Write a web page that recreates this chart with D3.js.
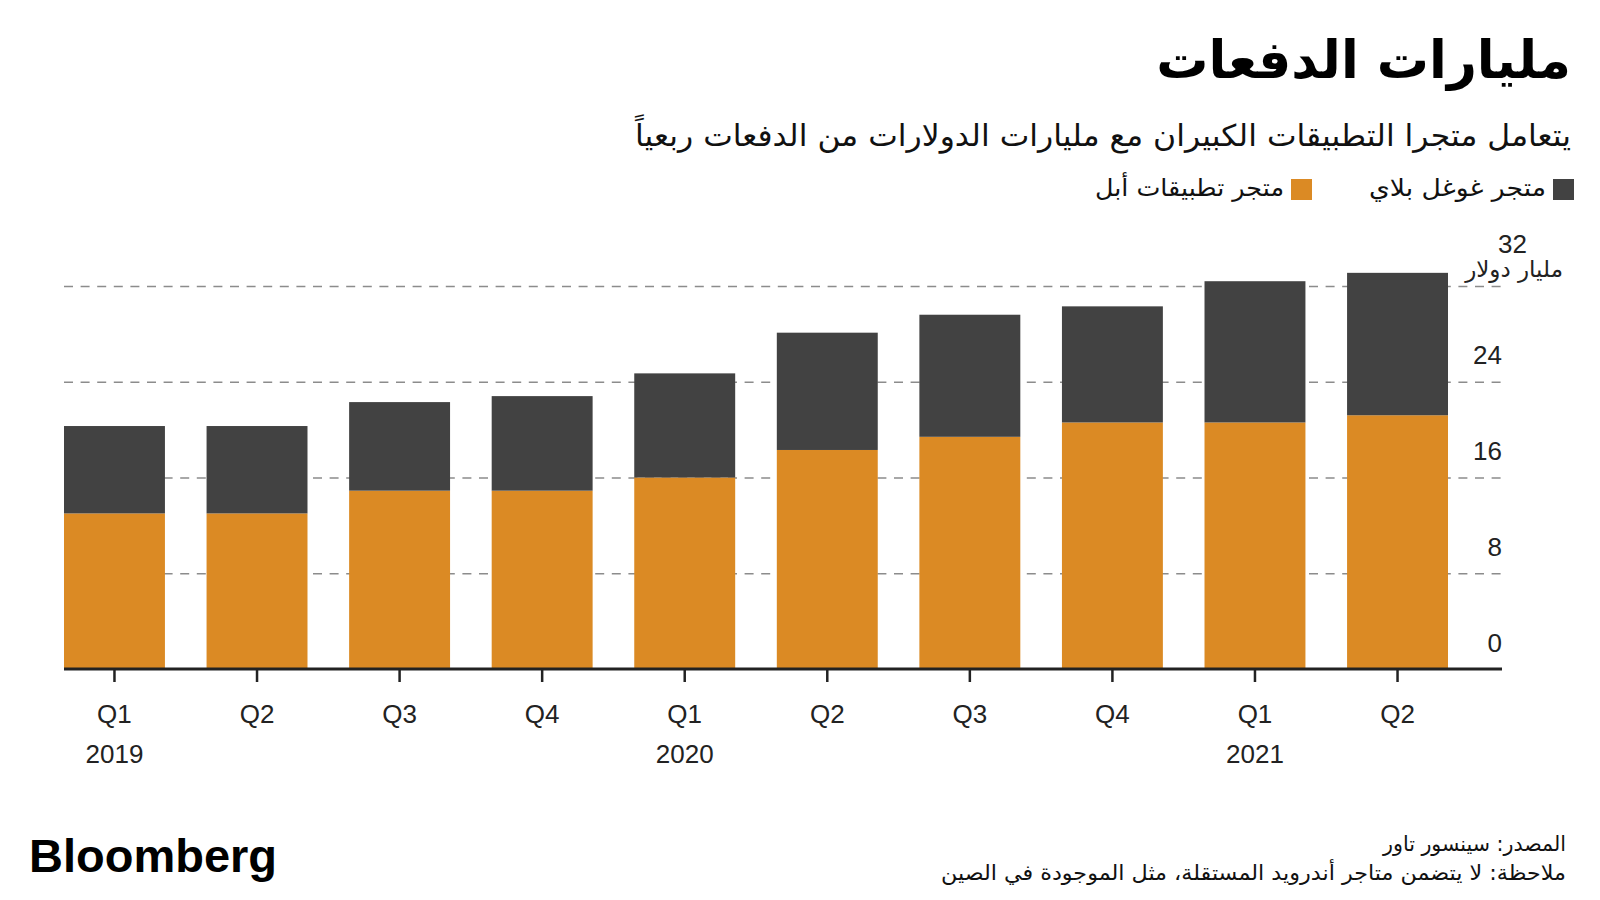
<!DOCTYPE html>
<html><head><meta charset="utf-8">
<script src="https://cdn.jsdelivr.net/npm/d3@7"></script>
<style>
html,body{margin:0;padding:0;background:#fff;}
svg{display:block;}
.ar{font-family:"DejaVu Sans",sans-serif;}
.num{font-family:"Liberation Sans",Arial,sans-serif;}
</style></head>
<body>
<svg id="chart" width="1600" height="900"></svg>
<script>
// ---- data ----
const periods = ["2019 Q1","2019 Q2","2019 Q3","2019 Q4","2020 Q1","2020 Q2","2020 Q3","2020 Q4","2021 Q1","2021 Q2"];
const quarterLabels = ["Q1","Q2","Q3","Q4","Q1","Q2","Q3","Q4","Q1","Q2"];
const yearLabels = ["2019","","","","2020","","","","2021",""];
const appleValues = [13.0, 13.0, 14.9, 14.9, 16.0, 18.3, 19.4, 20.6, 20.6, 21.2];
const googleValues = [7.3, 7.3, 7.4, 7.9, 8.7, 9.8, 10.2, 9.7, 11.8, 11.9];
const yTicks = [0, 8, 16, 24, 32];
const seriesNames = ["متجر تطبيقات أبل", "متجر غوغل بلاي"];
const titleText = "مليارات الدفعات";
const subtitleText = "يتعامل متجرا التطبيقات الكبيران مع مليارات الدولارات من الدفعات ربعياً";
const unitText = "مليار دولار";
const sourceText = "المصدر: سينسور تاور";
const noteText = "ملاحظة: لا يتضمن متاجر أندرويد المستقلة، مثل الموجودة في الصين";

const colors = {apple: "#db8a24", google: "#424242"};

const svg = d3.select("#chart");

// scales
const x = d3.scaleBand().domain(periods).range([64, 1448]).paddingInner(0.292).paddingOuter(0);
const y = d3.scaleLinear().domain([0, 32]).range([669, 286]);
const gridRight = 1502;

// gridlines
const gridAxis = d3.axisRight(y).tickValues(yTicks.filter(d => d > 0)).tickSize(gridRight - 64).tickFormat("");
const gGrid = svg.append("g").attr("transform", "translate(64,0)").call(gridAxis);
gGrid.select(".domain").remove();
gGrid.selectAll("line").attr("stroke", "#8c8c8c").attr("stroke-width", 1.5).attr("stroke-dasharray", "9,7.6");

// stacked bars
const rows = periods.map((p, i) => ({period: p, apple: appleValues[i], google: googleValues[i]}));
const stack = d3.stack().keys(["apple", "google"])(rows);
svg.append("g").selectAll("g").data(stack).join("g")
  .attr("fill", d => colors[d.key])
  .selectAll("rect").data(d => d).join("rect")
  .attr("x", d => x(d.data.period))
  .attr("width", x.bandwidth())
  .attr("y", d => y(d[1]))
  .attr("height", d => y(d[0]) - y(d[1]));

// y labels
const yLabelAxis = d3.axisLeft(y).tickValues(yTicks).tickSize(0).tickPadding(0);
const gY = svg.append("g").attr("class", "num").attr("transform", `translate(${gridRight},0)`).call(yLabelAxis);
gY.select(".domain").remove();
gY.selectAll("text").attr("font-size", 26).attr("font-family", "'Liberation Sans', Arial, sans-serif")
  .attr("fill", "#222").attr("dy", 0)
  .attr("y", d => d === 32 ? -34 : -18)
  .attr("x", d => d === 32 ? 25 : 0);
svg.append("text").attr("class", "ar").attr("x", 1563).attr("y", y(32) - 9)
  .attr("text-anchor", "end").attr("font-size", 23).attr("fill", "#222").text(unitText);

// x axis
const xAxis = d3.axisBottom(x).tickSize(13).tickFormat((d, i) => quarterLabels[i]);
const gX = svg.append("g").attr("transform", `translate(0,${y(0)})`).call(xAxis);
gX.select(".domain").remove();
gX.selectAll("line").attr("stroke", "#222").attr("stroke-width", 2.5);
gX.selectAll("text").attr("font-size", 26).attr("font-family", "'Liberation Sans', Arial, sans-serif")
  .attr("fill", "#222").attr("dy", 0).attr("y", 54);
gX.selectAll(".tick").append("text")
  .attr("font-size", 26).attr("font-family", "'Liberation Sans', Arial, sans-serif")
  .attr("fill", "#222").attr("text-anchor", "middle").attr("y", 94)
  .text((d, i) => yearLabels[i]);
// baseline
svg.append("line").attr("x1", 64).attr("x2", gridRight).attr("y1", y(0)).attr("y2", y(0))
  .attr("stroke", "#222").attr("stroke-width", 3);

// title & subtitle
const title = svg.append("text").attr("class", "ar").attr("x", 1571).attr("y", 78).attr("text-anchor", "end")
  .attr("font-size", 56).attr("font-weight", "bold").attr("fill", "#000").text(titleText);
const natural = title.node().getComputedTextLength();
if (natural > 415) title.attr("font-size", 56 * 415 / natural);
svg.append("text").attr("class", "ar").attr("x", 1571).attr("y", 146).attr("text-anchor", "end")
  .attr("font-size", 30).attr("fill", "#111")
  .attr("textLength", 936).attr("lengthAdjust", "spacingAndGlyphs").text(subtitleText);

// legend
const legend = [
  {name: seriesNames[1], color: colors.google, sq: 1553, tx: 1546, w: 177},
  {name: seriesNames[0], color: colors.apple, sq: 1291, tx: 1284, w: 189}
];
const gL = svg.append("g");
legend.forEach(l => {
  gL.append("rect").attr("x", l.sq).attr("y", 179).attr("width", 21).attr("height", 21).attr("fill", l.color);
  gL.append("text").attr("class", "ar").attr("x", l.tx).attr("y", 196).attr("text-anchor", "end")
    .attr("font-size", 24).attr("fill", "#111")
    .attr("textLength", l.w).attr("lengthAdjust", "spacingAndGlyphs").text(l.name);
});

// footer
svg.append("text").attr("x", 29).attr("y", 872).attr("font-family", "'Liberation Sans', Arial, sans-serif")
  .attr("font-weight", "bold").attr("font-size", 47).attr("fill", "#000").text("Bloomberg");
svg.append("text").attr("class", "ar").attr("x", 1566).attr("y", 851).attr("text-anchor", "end")
  .attr("font-size", 21).attr("fill", "#111")
  .attr("textLength", 183).attr("lengthAdjust", "spacingAndGlyphs").text(sourceText);
svg.append("text").attr("class", "ar").attr("x", 1566).attr("y", 880).attr("text-anchor", "end")
  .attr("font-size", 21).attr("fill", "#111")
  .attr("textLength", 625).attr("lengthAdjust", "spacingAndGlyphs").text(noteText);
</script>
</body></html>
